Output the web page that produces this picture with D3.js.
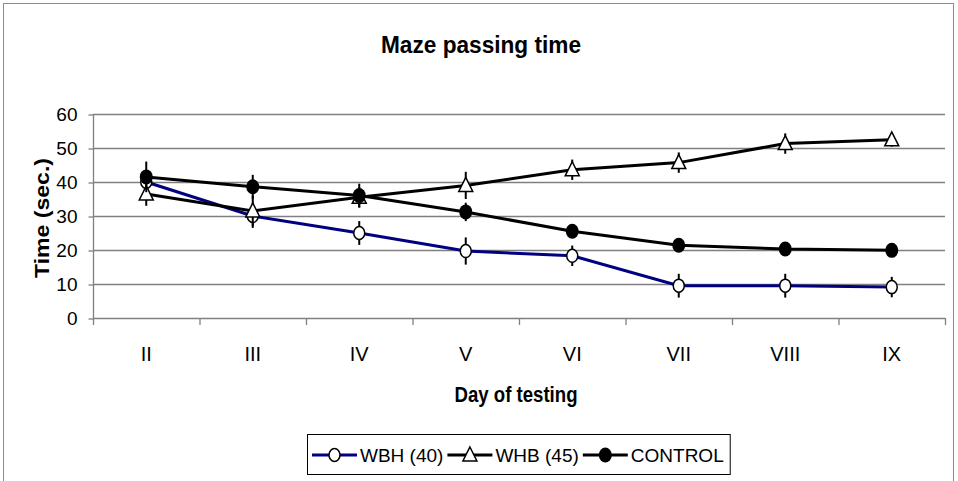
<!DOCTYPE html>
<html>
<head>
<meta charset="utf-8">
<script src="https://cdn.jsdelivr.net/npm/d3@7"></script>
<style>
  body { margin: 0; background: #fff; }
  svg text { font-family: "Liberation Sans", Arial, sans-serif; fill: #000; }
</style>
</head>
<body>
<div id="chart"></div>
<script>
// data
var days = ["II", "III", "IV", "V", "VI", "VII", "VIII", "IX"];
var yTicks = [0, 10, 20, 30, 40, 50, 60];
var seriesNames = ["WBH (40)", "WHB (45)", "CONTROL"];
var wbh = [40, 30, 25, 19.7, 18.3, 9.5, 9.5, 9.1];
var whb = [36.5, 31.5, 35.5, 39, 43.6, 45.7, 51.3, 52.4];
var control = [41.5, 38.6, 36, 31.2, 25.5, 21.4, 20.3, 19.9];
var wbhErr = [3, 3.5, 3.5, 4, 3, 3.5, 3.5, 3];
var whbErr = [3.5, 4.5, 3, 4, 3, 3, 3, 2];
var controlErr = [4.5, 3.5, 3.5, 2.7, 1.5, 1.5, 1.5, 1.5];

var W = 958, H = 481;
var plot = {left: 93, right: 945, top: 114, bottom: 318};

var svg = d3.select("#chart").append("svg")
	.attr("width", W)
	.attr("height", H);

// outer frame
svg.append("rect")
	.attr("x", 3.5).attr("y", 3.5)
	.attr("width", 950).attr("height", 500)
	.attr("fill", "none")
	.attr("stroke", "#8c8c8c");

var x = d3.scaleBand().domain(days).range([plot.left, plot.right]);
var y = d3.scaleLinear().domain([0, 60]).range([plot.bottom, plot.top]);

// gridlines
svg.selectAll("line.grid")
	.data(yTicks.slice(1))
	.enter()
	.append("line")
	.attr("class", "grid")
	.attr("x1", plot.left).attr("x2", plot.right)
	.attr("y1", function(d) { return y(d) + 0.5; })
	.attr("y2", function(d) { return y(d) + 0.5; })
	.attr("stroke", "#808080")
	.attr("stroke-width", 1.3);

// y axis
var yAxis = svg.append("g")
	.attr("transform", "translate(" + (plot.left + 0.5) + ",0.5)")
	.call(d3.axisLeft(y).tickValues(yTicks).tickSize(5).tickPadding(11));
yAxis.selectAll("path, line").attr("stroke", "#808080").attr("stroke-width", 1.3);
yAxis.select(".domain").attr("d", "M0," + plot.top + "V" + plot.bottom);
yAxis.selectAll("text")
	.style("font-family", "Liberation Sans, Arial, sans-serif")
	.style("font-size", "19px")
	.attr("fill", "#000");

// x axis (ticks on band boundaries)
var xAxis = svg.append("g");
xAxis.append("line")
	.attr("x1", plot.left).attr("x2", plot.right)
	.attr("y1", plot.bottom + 0.5).attr("y2", plot.bottom + 0.5)
	.attr("stroke", "#808080").attr("stroke-width", 1.3);
var bounds = days.map(function(d) { return x(d); }).concat([plot.right]);
xAxis.selectAll("line.tick")
	.data(bounds)
	.enter()
	.append("line")
	.attr("x1", function(d) { return d + 0.5; })
	.attr("x2", function(d) { return d + 0.5; })
	.attr("y1", plot.bottom).attr("y2", plot.bottom + 7)
	.attr("stroke", "#808080").attr("stroke-width", 1.3);
xAxis.selectAll("text")
	.data(days)
	.enter()
	.append("text")
	.attr("x", function(d) { return x(d) + x.bandwidth() / 2; })
	.attr("y", 361)
	.attr("text-anchor", "middle")
	.style("font-size", "20px")
	.text(function(d) { return d; });

// titles
svg.append("text")
	.attr("x", 481).attr("y", 53)
	.attr("text-anchor", "middle")
	.attr("textLength", 200).attr("lengthAdjust", "spacingAndGlyphs")
	.style("font-size", "23px").style("font-weight", "bold")
	.text("Maze passing time");
svg.append("text")
	.attr("x", 516).attr("y", 402)
	.attr("text-anchor", "middle")
	.attr("textLength", 123).attr("lengthAdjust", "spacingAndGlyphs")
	.style("font-size", "22px").style("font-weight", "bold")
	.text("Day of testing");
svg.append("text")
	.attr("transform", "translate(49,218) rotate(-90)")
	.attr("text-anchor", "middle")
	.attr("textLength", 120).attr("lengthAdjust", "spacingAndGlyphs")
	.style("font-size", "21px").style("font-weight", "bold")
	.text("Time (sec.)");

// series
var series = [
	{name: seriesNames[0], values: wbh, err: wbhErr, color: "#000080", marker: "open"},
	{name: seriesNames[1], values: whb, err: whbErr, color: "#000000", marker: "tri"},
	{name: seriesNames[2], values: control, err: controlErr, color: "#000000", marker: "dot"}
];

var line = d3.line()
	.x(function(d, i) { return x(days[i]) + x.bandwidth() / 2; })
	.y(function(d) { return y(d); });

function drawMarker(g, type, cx, cy) {
	if (type == "open") {
		g.append("ellipse")
			.attr("cx", cx).attr("cy", cy).attr("rx", 5.5).attr("ry", 6.5)
			.attr("fill", "#fff").attr("stroke", "#000").attr("stroke-width", 1.5);
	} else if (type == "dot") {
		g.append("ellipse")
			.attr("cx", cx).attr("cy", cy).attr("rx", 6.5).attr("ry", 7.5)
			.attr("fill", "#000");
	} else {
		g.append("path")
			.attr("d", "M" + cx + "," + (cy - 8) + "L" + (cx + 7) + "," + (cy + 6) + "L" + (cx - 7) + "," + (cy + 6) + "Z")
			.attr("fill", "#fff").attr("stroke", "#000").attr("stroke-width", 1.5);
	}
}

series.forEach(function(s) {
	var g = svg.append("g");
	g.append("path")
		.datum(s.values)
		.attr("d", line)
		.attr("fill", "none")
		.attr("stroke", s.color)
		.attr("stroke-width", 3);
	g.selectAll("line.err")
		.data(s.values)
		.enter()
		.append("line")
		.attr("x1", function(d, i) { return x(days[i]) + x.bandwidth() / 2; })
		.attr("x2", function(d, i) { return x(days[i]) + x.bandwidth() / 2; })
		.attr("y1", function(d, i) { return y(d + s.err[i]); })
		.attr("y2", function(d, i) { return y(d - s.err[i]); })
		.attr("stroke", "#000")
		.attr("stroke-width", 2);
	s.values.forEach(function(v, i) {
		drawMarker(g, s.marker, x(days[i]) + x.bandwidth() / 2, y(v));
	});
});

// legend
var legend = svg.append("g");
var lx = 312, ly = 455;
series.forEach(function(s) {
	var it = legend.append("g").attr("transform", "translate(" + lx + "," + ly + ")");
	it.append("line")
		.attr("x1", 0).attr("x2", 45).attr("y1", 0).attr("y2", 0)
		.attr("stroke", s.color).attr("stroke-width", 3);
	drawMarker(it, s.marker, 22.5, 0);
	var t = it.append("text")
		.attr("x", 48).attr("y", 7)
		.style("font-size", "19px")
		.text(s.name);
	lx += 48 + t.node().getComputedTextLength() + 4;
});
legend.insert("rect", ":first-child")
	.attr("x", 307.5).attr("y", 434.5)
	.attr("width", lx - 307 + 2).attr("height", 40)
	.attr("fill", "#fff")
	.attr("stroke", "#000")
	.attr("stroke-width", 1);
</script>
</body>
</html>
